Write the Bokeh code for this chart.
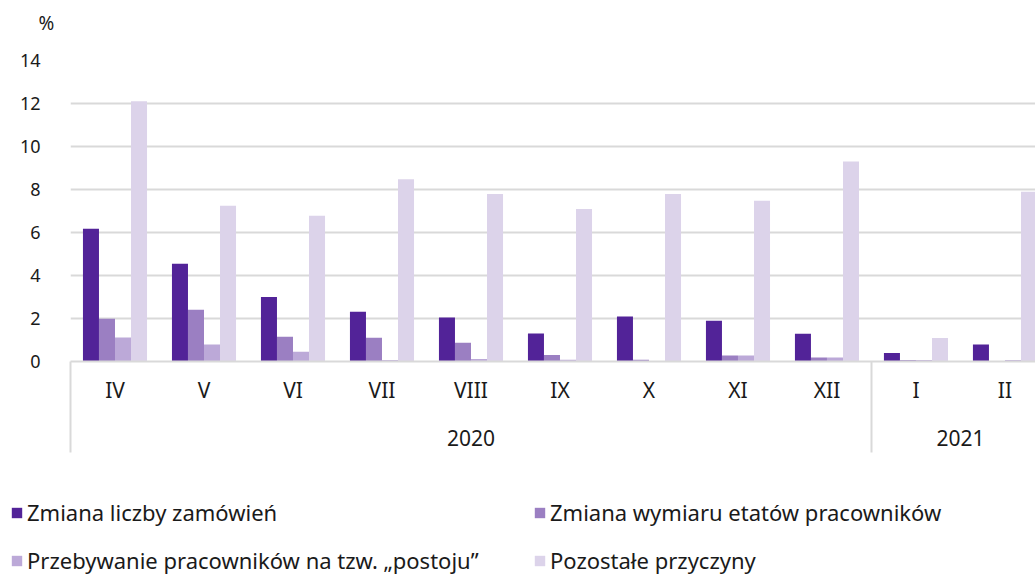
from bokeh.plotting import figure
from bokeh.models import Range1d, FixedTicker, LinearAxis, Legend, LegendItem, Label
from bokeh.layouts import column
from bokeh.embed import file_html
from bokeh.resources import INLINE

months = ["IV", "V", "VI", "VII", "VIII", "IX", "X", "XI", "XII", "I", "II"]
years = ["2020", "2021"]
year_first = [0, 9]
year_last = [8, 10]
unit_label = "%"
series_names = [
    "Zmiana liczby zamówień",
    "Zmiana wymiaru etatów pracowników",
    "Przebywanie pracowników na tzw. „postoju”",
    "Pozostałe przyczyny",
]
s_orders = [6.18, 4.55, 3.00, 2.31, 2.05, 1.30, 2.09, 1.89, 1.29, 0.40, 0.79]
s_hours = [1.99, 2.41, 1.15, 1.10, 0.87, 0.30, 0.08, 0.28, 0.19, 0.07, 0.00]
s_idle = [1.12, 0.79, 0.45, 0.07, 0.12, 0.08, 0.00, 0.28, 0.19, 0.07, 0.07]
s_other = [12.10, 7.25, 6.78, 8.48, 7.79, 7.09, 7.79, 7.48, 9.30, 1.09, 7.89]
series = [s_orders, s_hours, s_idle, s_other]
colors = ["#522398", "#9b7fc2", "#bca9d8", "#dcd3ea"]

FONT = "Noto Sans"
TXT = "#1a1a1a"
GRID = "#d9d9d9"
W = 1035


def strip(height):
    f = figure(width=W, height=height, x_range=Range1d(0, W), y_range=Range1d(height, 0),
               output_backend="svg", toolbar_location=None,
               min_border_left=0, min_border_right=0,
               min_border_top=0, min_border_bottom=0,
               x_axis_type=None, y_axis_type=None)
    f.outline_line_color = None
    f.xgrid.grid_line_color = None
    f.ygrid.grid_line_color = None
    if hasattr(f, "frame_align"):
        f.frame_align = False
    return f


# top strip with the unit label
top = strip(40)
top.add_layout(Label(x=46, y=22, text=unit_label, text_align="center",
                     text_baseline="middle", text_font=FONT,
                     text_font_size="19px", text_color=TXT))

x = list(range(len(months)))
bw = 0.18

p = figure(width=W, height=430,
           x_range=Range1d(-0.5, 10.343), y_range=Range1d(0, 14),
           output_backend="svg", toolbar_location=None,
           min_border_left=70, min_border_right=0,
           min_border_top=20, min_border_bottom=109)
if hasattr(p, "frame_align"):
    p.frame_align = False
p.outline_line_color = None

for k, (vals, col) in enumerate(zip(series, colors)):
    off = (k - 1.5) * bw
    p.vbar(x=[xi + off for xi in x], top=vals, width=bw, bottom=0,
           fill_color=col, line_color=None)

# y axis
p.yaxis.ticker = FixedTicker(ticks=list(range(0, 15, 2)))
p.yaxis.axis_line_color = None
p.yaxis.major_tick_line_color = None
p.yaxis.minor_tick_line_color = None
p.yaxis.major_label_standoff = 24
p.yaxis.major_label_text_font = FONT
p.yaxis.major_label_text_font_size = "18px"
p.yaxis.major_label_text_color = TXT
p.ygrid.grid_line_color = GRID
p.ygrid.grid_line_width = 2
p.xgrid.grid_line_color = None

# x axis: months (major) + group dividers (minor ticks)
DIV = 91
dividers = [year_first[0] - 0.5, year_last[0] + 0.5]
xa = p.xaxis[0]
xa.ticker = FixedTicker(ticks=x, minor_ticks=dividers)
xa.major_label_overrides = {i: m for i, m in zip(x, months)}
xa.axis_line_color = GRID
xa.axis_line_width = 2
xa.major_tick_out = 0
xa.major_tick_in = 0
xa.major_tick_line_color = None
xa.minor_tick_out = DIV
xa.minor_tick_in = 0
xa.minor_tick_line_color = GRID
xa.minor_tick_line_width = 2
xa.major_label_standoff = 14 - DIV
xa.major_label_text_font = FONT
xa.major_label_text_font_size = "21px"
xa.major_label_text_color = TXT

# year axis
ycent = [(a + b) / 2 for a, b in zip(year_first, year_last)]
ov = {}
for c, yname in zip(ycent, years):
    ov[float(c)] = yname
    ov[str(c)] = yname
ya = LinearAxis(ticker=FixedTicker(ticks=ycent, minor_ticks=[]),
                major_label_overrides=ov)
ya.axis_line_color = None
ya.major_tick_line_color = None
ya.minor_tick_line_color = None
ya.major_label_standoff = 17
ya.major_label_text_font = FONT
ya.major_label_text_font_size = "21px"
ya.major_label_text_color = TXT
p.add_layout(ya, "below")

# legend in its own strip below the chart
q = figure(width=W, height=105, x_range=Range1d(0, 1), y_range=Range1d(0, 1),
           output_backend="svg", toolbar_location=None,
           min_border_left=0, min_border_right=0,
           min_border_top=0, min_border_bottom=0,
           x_axis_type=None, y_axis_type=None)
if hasattr(q, "frame_align"):
    q.frame_align = False
q.outline_line_color = None
q.xgrid.grid_line_color = None
q.ygrid.grid_line_color = None
items = []
for vals, col, name in zip(series, colors, series_names):
    r = q.vbar(x=[0.5], top=[0], bottom=[0], width=0.01, fill_color=col, line_color=None)
    items.append(LegendItem(label=name, renderers=[r]))
lg = Legend(items=items, location=(10, 0), orientation="horizontal", ncols=2)
lg.border_line_color = None
lg.background_fill_alpha = 0
lg.padding = 0
lg.margin = 0
lg.spacing = 18
lg.glyph_width = 13
lg.glyph_height = 13
lg.label_standoff = 4
lg.label_width = 488
lg.label_text_font = FONT
lg.label_text_font_size = "22px"
lg.label_text_color = TXT
lg.label_height = 24
q.add_layout(lg, "center")

layout = column(top, p, q, spacing=0)
open("out.html", "w").write(file_html(layout, INLINE))
